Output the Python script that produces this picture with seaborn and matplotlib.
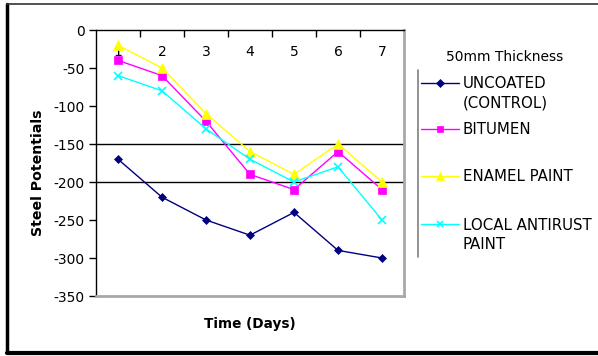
import matplotlib
matplotlib.use("Agg")
import matplotlib.pyplot as plt
from matplotlib.lines import Line2D
import seaborn as sns
import pandas as pd

days = [1, 2, 3, 4, 5, 6, 7]
uncoated = [-170, -220, -250, -270, -240, -290, -300]
bitumen = [-40, -60, -120, -190, -210, -160, -210]
enamel = [-20, -50, -110, -160, -190, -150, -200]
antirust = [-60, -80, -130, -170, -200, -180, -250]

series_names = ["UNCOATED\n(CONTROL)", "BITUMEN", "ENAMEL PAINT", "LOCAL ANTIRUST\nPAINT"]
series_values = [uncoated, bitumen, enamel, antirust]
colors = ["#000080", "#FF00FF", "#FFFF00", "#00FFFF"]
markers = ["D", "s", "^", "x"]
msizes = [4.5, 5.5, 6.5, 6]
yticks = [0, -50, -100, -150, -200, -250, -300, -350]
gridlines = [-150, -200]

sns.set_style("white")
plt.rcParams["font.family"] = ["DejaVu Sans"]
plt.rcParams["text.color"] = "black"
plt.rcParams["xtick.color"] = "black"
plt.rcParams["ytick.color"] = "black"

W, H = 598, 356
fig = plt.figure(figsize=(W / 100, H / 100), dpi=100)
ax = fig.add_axes([96 / W, 1 - 296 / H, (404 - 96) / W, (296 - 30) / H])

for name, vals, c, m, ms in zip(series_names, series_values, colors, markers, msizes):
    df = pd.DataFrame({"Day": days, "Potential": vals})
    sns.lineplot(data=df, x="Day", y="Potential", ax=ax, color=c, marker=m,
                 markersize=ms, markeredgecolor=c, markeredgewidth=1.2 if m == "x" else 0.5,
                 linewidth=1.0, label=name, legend=False)

for g in gridlines:
    ax.axhline(g, color="black", lw=1.0, zorder=0.5)

ax.set_xlim(0.5, 7.5)
ax.set_ylim(-350, 0)
ax.set_yticks(yticks)
ax.set_yticklabels([str(v) for v in yticks])
ax.tick_params(axis="y", direction="out", length=5, width=1, color="black",
               labelsize=10, pad=3, left=True, labelcolor="black")

ax.set_xticks(days)
ax.set_xticklabels([str(d) for d in days])
ax.set_xticks([d + 0.5 for d in days[:-1]], minor=True)
ax.xaxis.set_ticks_position("top")
ax.tick_params(axis="x", which="major", length=0, top=False, bottom=False,
               labeltop=True, labelbottom=False, labelsize=10, pad=-21, labelcolor="black")
ax.tick_params(axis="x", which="minor", length=5, width=1, direction="in",
               top=True, bottom=False, color="black")

ax.set_xlabel("")
ax.set_ylabel("")
fig.text(250 / W, 1 - 324 / H, "Time (Days)", ha="center", va="center",
         fontsize=9.8, fontweight="bold")
fig.text(38 / W, 1 - 173 / H, "Steel Potentials", ha="center", va="center",
         rotation=90, fontsize=10.2, fontweight="bold")

for side in ["left", "top"]:
    ax.spines[side].set_color("black")
    ax.spines[side].set_linewidth(1.0)
for side in ["right", "bottom"]:
    ax.spines[side].set_color("#a8a8a8")
    ax.spines[side].set_linewidth(2.0)

# legend: one entry per series, handle aligned with first label line
handles = ax.get_lines()[:4]
first_y = [84, 130, 177, 225]
line_gap = 19.5
legs = []
for h, lab, y in zip(handles, series_names, first_y):
    first = lab.split("\n")[0]
    leg = fig.legend([h], [first], loc="center left",
                     bbox_to_anchor=(421 / W, 1 - y / H),
                     frameon=False, fontsize=10.8, handlelength=2.5,
                     handletextpad=0.3, borderpad=0, borderaxespad=0, markerscale=0.8)
    legs.append(leg)
fig.canvas.draw()
renderer = fig.canvas.get_renderer()
for leg, lab, y in zip(legs, series_names, first_y):
    parts = lab.split("\n")
    if len(parts) > 1:
        bb = leg.get_texts()[0].get_window_extent(renderer)
        fig.text(bb.x0 / W, 1 - (y + line_gap) / H, parts[1], ha="left", va="center",
                 fontsize=10.8)

fig.text(505 / W, 1 - 57 / H, "50mm Thickness", ha="center", va="center", fontsize=10)
fig.add_artist(Line2D([418 / W, 418 / W], [1 - 70 / H, 1 - 257 / H], color="#808080", lw=1.2))

# outer border
fig.add_artist(Line2D([7 / W, 7 / W], [1 - 4 / H, 1 - 352 / H], color="black", lw=2.5))
fig.add_artist(Line2D([7 / W, 1.0], [1 - 4 / H, 1 - 4 / H], color="#333333", lw=1.2))
fig.add_artist(Line2D([7 / W, 1.0], [1 - 352.5 / H, 1 - 352.5 / H], color="black", lw=3))

fig.savefig("out.png", dpi=100)
